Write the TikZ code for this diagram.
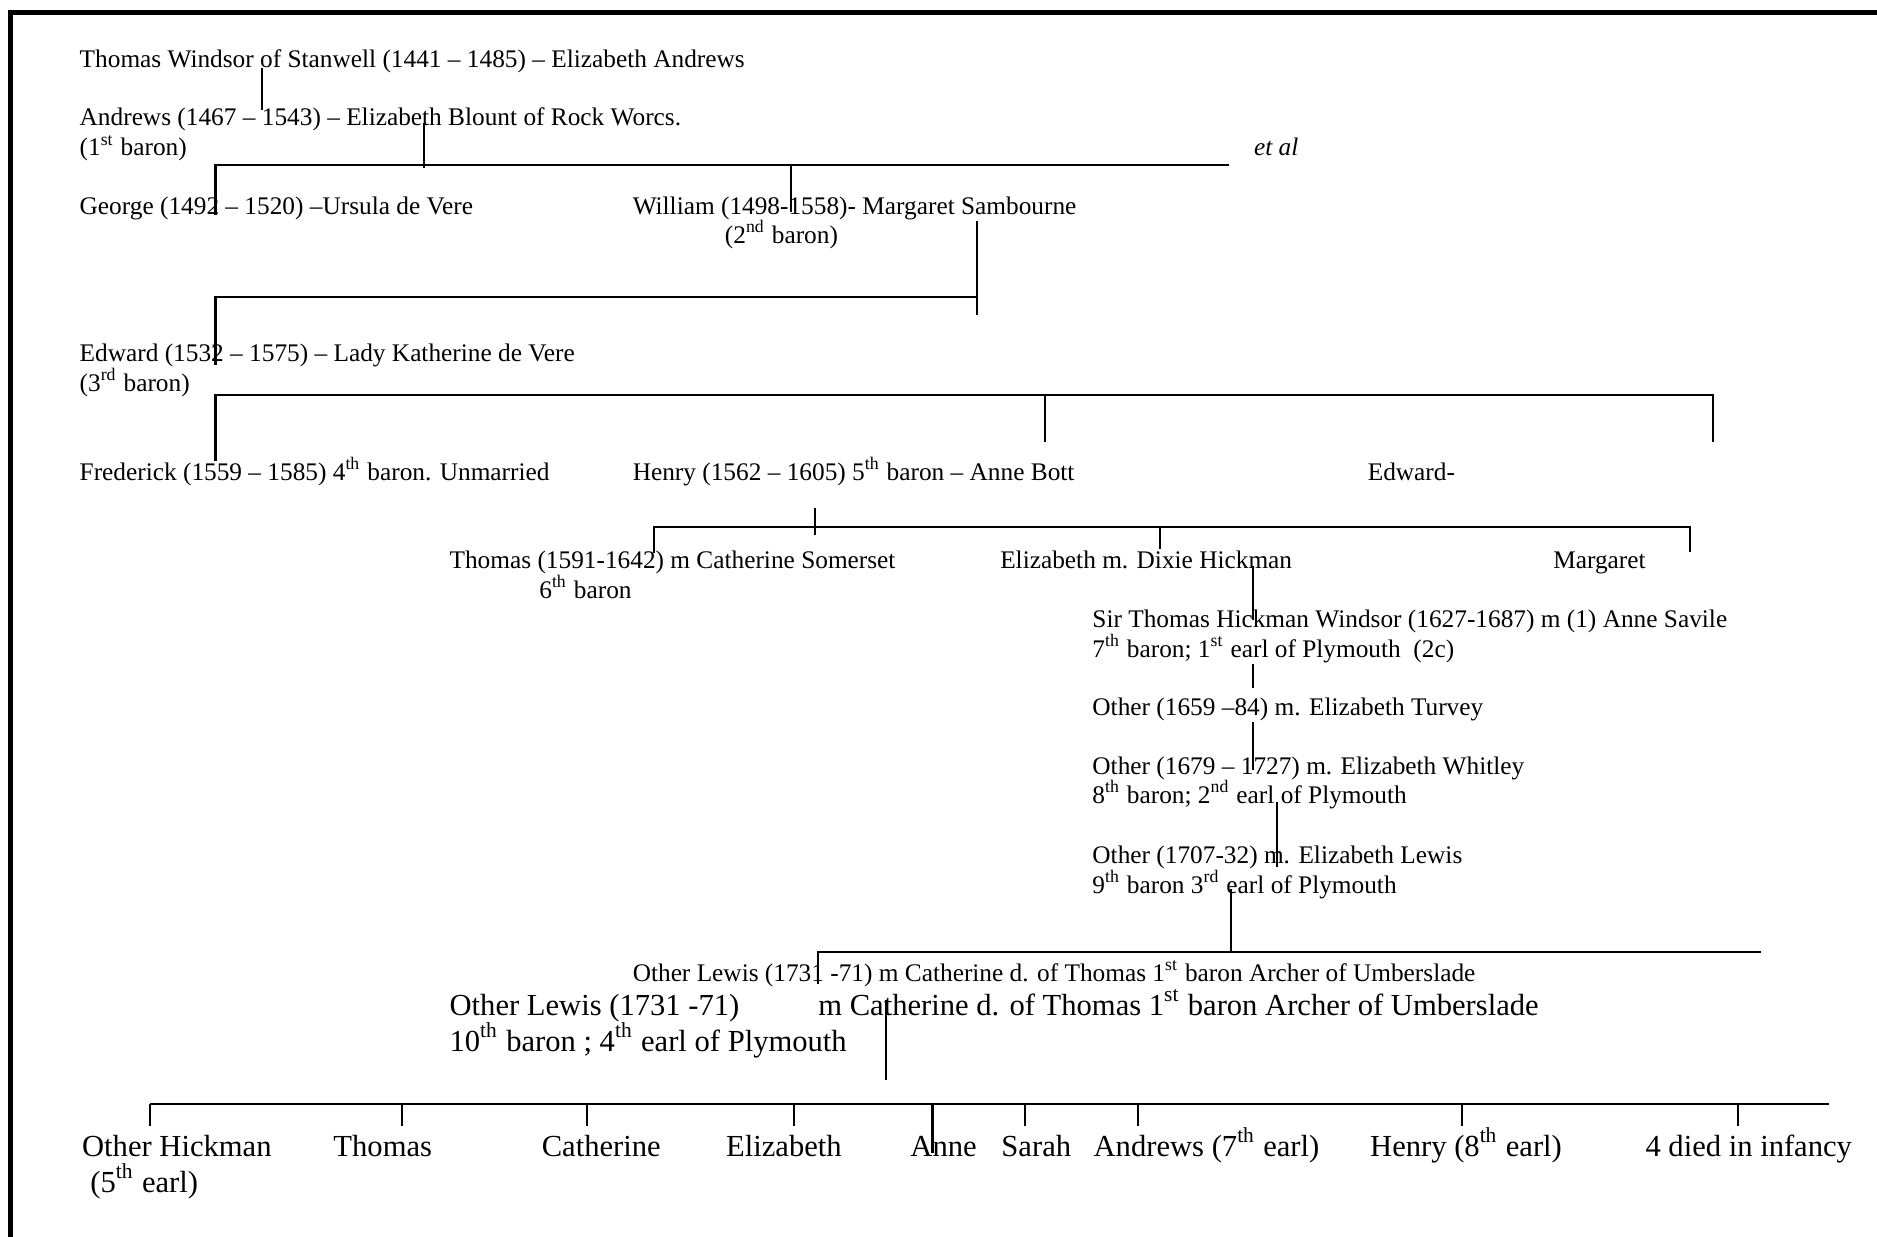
\documentclass[tikz,border=0pt]{standalone}
\usepackage{fontspec}
\setmainfont{Liberation Serif}
\usepackage{tikz}

\begin{document}
\begin{tikzpicture}[
  x=0.01197cm, y=-0.01197cm,
  txt/.style={font=\fontsize{7.2}{8.6}\selectfont, anchor=base west, inner sep=0pt},
  bigtxt/.style={font=\fontsize{8.7}{10.4}\selectfont, anchor=base west, inner sep=0pt},
  ln/.style={line width=0.6pt}
]
\useasboundingbox (0,0) rectangle (1568,1033);
\draw[line width=1.4pt] (9,10.5) rectangle (1700,1200);

% generations, top to bottom
\node[txt] (tw) at (66,56) {Thomas Windsor of Stanwell (1441 -- 1485) -- Elizabeth Andrews};
\node[txt] (an) at (66,105) {Andrews (1467 -- 1543) -- Elizabeth Blount of Rock Worcs.};
\node[txt] (anb) at (66,130) {(1\textsuperscript{st} baron)};
\node[txt] (etal) at (1047,130) {\textit{et al}};
\node[txt] (ge) at (66,179) {George (1492 -- 1520) --Ursula de Vere};
\node[txt] (wi) at (528,179) {William (1498-1558)- Margaret Sambourne};
\node[txt] (wib) at (605,203) {(2\textsuperscript{nd} baron)};
\node[txt] (ed) at (66,302) {Edward (1532 -- 1575) -- Lady Katherine de Vere};
\node[txt] (edb) at (66,327) {(3\textsuperscript{rd} baron)};
\node[txt] (fr) at (66,401) {Frederick (1559 -- 1585) 4\textsuperscript{th} baron. Unmarried};
\node[txt] (he) at (528,401) {Henry (1562 -- 1605) 5\textsuperscript{th} baron -- Anne Bott};
\node[txt] (ew) at (1142,401) {Edward-};
\node[txt] (th) at (375,475) {Thomas (1591-1642) m Catherine Somerset};
\node[txt] (thb) at (450,500) {6\textsuperscript{th} baron};
\node[txt] (el) at (835,475) {Elizabeth m. Dixie Hickman};
\node[txt] (ma) at (1297,475) {Margaret};
\node[txt] (st) at (912,524) {Sir Thomas Hickman Windsor (1627-1687) m (1) Anne Savile};
\node[txt] (stb) at (912,549) {7\textsuperscript{th} baron; 1\textsuperscript{st} earl of Plymouth\ \ (2c)};
\node[txt] (oa) at (912,598) {Other (1659 --84) m. Elizabeth Turvey};
\node[txt] (ob) at (912,647) {Other (1679 -- 1727) m. Elizabeth Whitley};
\node[txt] (obb) at (912,671) {8\textsuperscript{th} baron; 2\textsuperscript{nd} earl of Plymouth};
\node[txt] (oc) at (912,721) {Other (1707-32) m. Elizabeth Lewis};
\node[txt] (ocb) at (912,746) {9\textsuperscript{th} baron 3\textsuperscript{rd} earl of Plymouth};
\node[txt] (ol) at (528,820) {Other Lewis (1731 -71) m Catherine d. of Thomas 1\textsuperscript{st} baron Archer of Umberslade};
\node[bigtxt] (olb) at (375,848) {Other Lewis (1731 -71)};
\node[bigtxt] (olc) at (375,878) {10\textsuperscript{th} baron ; 4\textsuperscript{th} earl of Plymouth};
\node[bigtxt] (cat) at (683,848) {m Catherine d. of Thomas 1\textsuperscript{st} baron Archer of Umberslade};

% children of Other Lewis
\node[bigtxt] (k1) at (68,966) {Other Hickman};
\node[bigtxt] (k1b) at (75,996) {(5\textsuperscript{th} earl)};
\node[bigtxt] (k2) at (278,966) {Thomas};
\node[bigtxt] (k3) at (452,966) {Catherine};
\node[bigtxt] (k4) at (606,966) {Elizabeth};
\node[bigtxt] (k5) at (760,966) {Anne};
\node[bigtxt] (k6) at (836,966) {Sarah};
\node[bigtxt] (k7) at (913,966) {Andrews (7\textsuperscript{th} earl)};
\node[bigtxt] (k8) at (1144,966) {Henry (8\textsuperscript{th} earl)};
\node[bigtxt] (k9) at (1374,966) {4 died in infancy};

% junction points
\coordinate (tw-d) at (219,57);
\coordinate (an-u) at (219,92);
\coordinate (an-d) at (354,103);
\coordinate (bar1) at (354,140);
\coordinate (bar1-l) at (180,138);
\coordinate (bar1-r) at (1027,138);
\coordinate (ge-u) at (180,180);
\coordinate (bar1-w) at (661,138);
\coordinate (wi-u) at (661,177);
\coordinate (wi-d) at (816,185);
\coordinate (bar2-j) at (816,248);
\coordinate (bar2-r) at (816,263);
\coordinate (ed-u) at (180,305);
\coordinate (fr-u) at (180,385);
\coordinate (bar3-r) at (1431,330);
\coordinate (ew-u) at (1431,369);
\coordinate (bar3-h) at (873,330);
\coordinate (he-u) at (873,369);
\coordinate (he-d) at (681,424);
\coordinate (bar4) at (681,447);
\coordinate (th-u) at (546,462);
\coordinate (bar4-r) at (1412,440);
\coordinate (ma-u) at (1412,461);
\coordinate (bar4-e) at (969,440);
\coordinate (el-u) at (969,459);
\coordinate (el-d) at (1047,473);
\coordinate (st-u) at (1047,518);
\coordinate (st-d) at (1047,555);
\coordinate (oa-u) at (1047,575);
\coordinate (oa-d) at (1047,603);
\coordinate (ob-u) at (1047,643);
\coordinate (ob-d) at (1067,670);
\coordinate (oc-u) at (1067,724);
\coordinate (oc-d) at (1028,743);
\coordinate (bar5) at (1028,795);
\coordinate (ol-u) at (683,822);
\coordinate (bar5-r) at (1471,795);
\coordinate (cat-d) at (740,835);
\coordinate (bar6) at (740,902);
\coordinate (bar6-l) at (125,922);
\coordinate (bar6-r) at (1528,922);

% connectors
\draw[ln] (tw-d) -- (an-u);
\draw[ln] (an-d) -- (bar1);
\draw[ln] (ge-u) |- (bar1-r);
\draw[ln] (bar1-w) -- (wi-u);
\draw[ln] (wi-d) -- (bar2-r);
\draw[ln] (ed-u) |- (bar2-j);
\draw[ln] (fr-u) |- (bar3-r) -- (ew-u);
\draw[ln] (bar3-h) -- (he-u);
\draw[ln] (he-d) -- (bar4);
\draw[ln] (th-u) |- (bar4-r) -- (ma-u);
\draw[ln] (bar4-e) -- (el-u);
\draw[ln] (el-d) -- (st-u);
\draw[ln] (st-d) -- (oa-u);
\draw[ln] (oa-d) -- (ob-u);
\draw[ln] (ob-d) -- (oc-u);
\draw[ln] (oc-d) -- (bar5);
\draw[ln] (ol-u) |- (bar5-r);
\draw[ln] (cat-d) -- (bar6);
\draw[ln] (bar6-l) -- (bar6-r);
\draw[ln] (bar6-l) -- (bar6-l |- 0,941);
\draw[ln] (336,922) coordinate (k2-u) -- (k2-u |- 0,941);
\draw[ln] (490,922) coordinate (k3-u) -- (k3-u |- 0,941);
\draw[ln] (663,922) coordinate (k4-u) -- (k4-u |- 0,941);
\draw[ln] (779,922) coordinate (k5-u) -- (k5-u |- 0,963);
\draw[ln] (856,922) coordinate (k6-u) -- (k6-u |- 0,941);
\draw[ln] (951,922) coordinate (k7-u) -- (k7-u |- 0,941);
\draw[ln] (1221,922) coordinate (k8-u) -- (k8-u |- 0,941);
\draw[ln] (1452,922) coordinate (k9-u) -- (k9-u |- 0,941);
\end{tikzpicture}
\end{document}
